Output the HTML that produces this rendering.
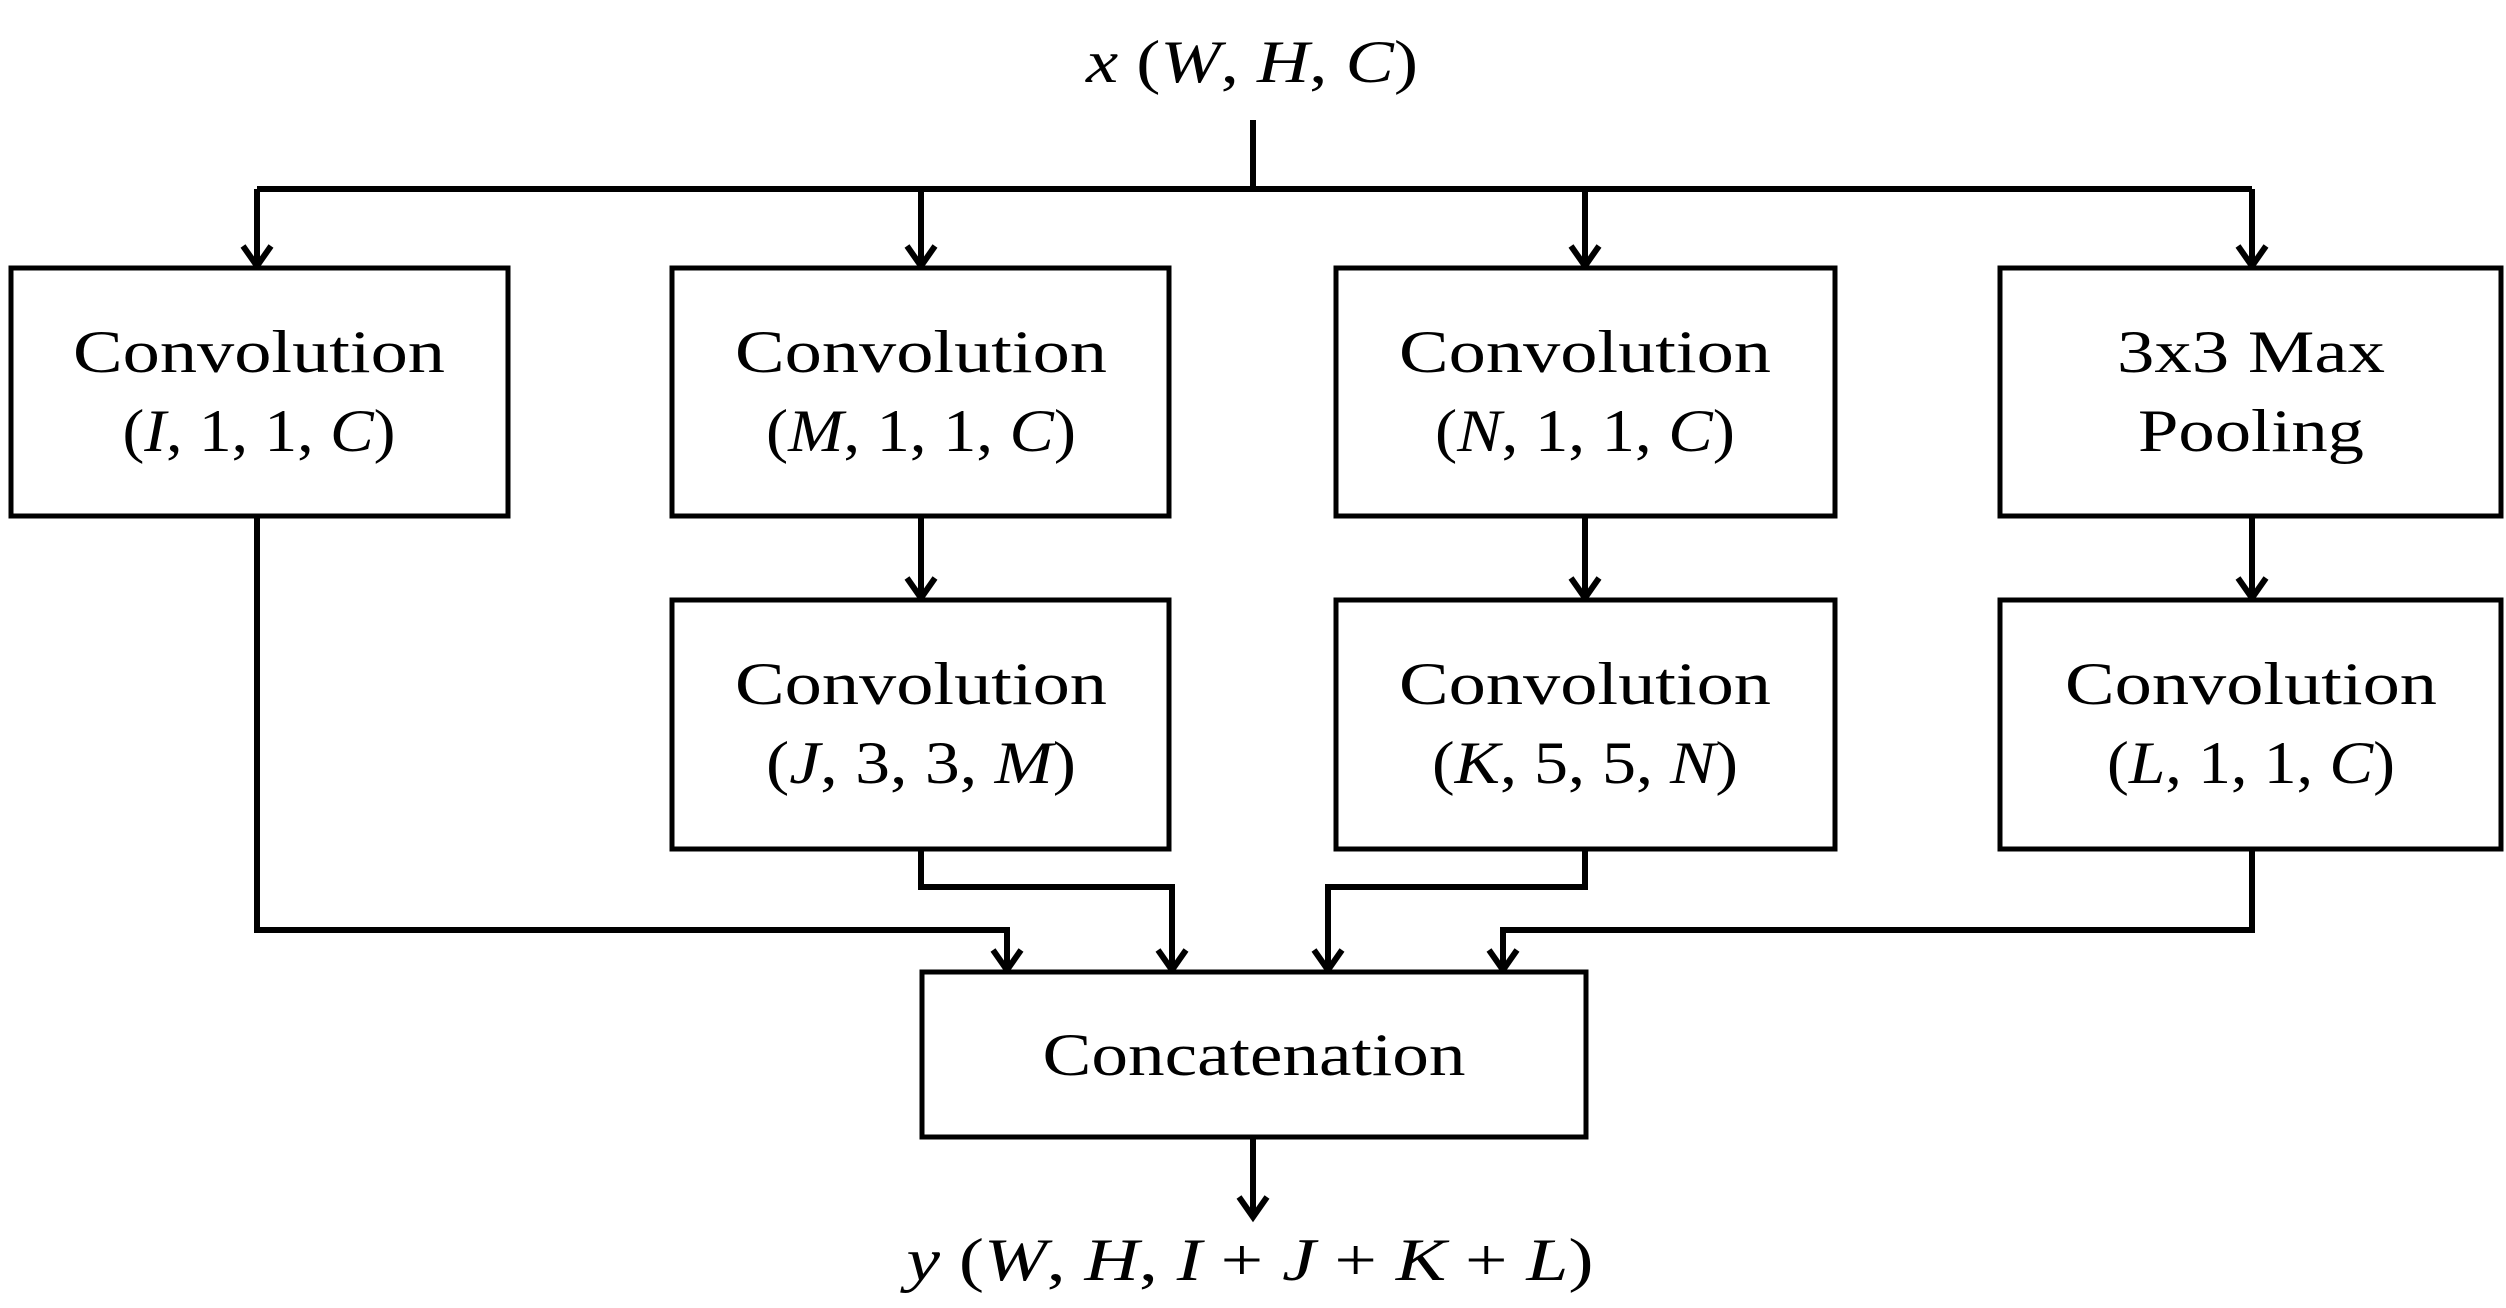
<!DOCTYPE html>
<html><head><meta charset="utf-8"><style>html,body{margin:0;padding:0;background:#fff}svg{display:block}</style></head>
<body>
<svg width="2506" height="1308" viewBox="0 0 2506 1308" xmlns="http://www.w3.org/2000/svg">
<defs>
<marker id="a" markerWidth="10" markerHeight="10" refX="5" refY="8" orient="auto" markerUnits="userSpaceOnUse" viewBox="0 0 10 10" overflow="visible">
</marker>
</defs>
<g fill="none" stroke="#000" stroke-width="6">
<!-- top -->
<path d="M1253 120 V189 M257 189 H2252 M257 189 V265 M921 189 V265 M1585 189 V265 M2252 189 V265"/>
<path d="M921 516 V597 M1585 516 V597 M2252 516 V597"/>
<path d="M257 516 V930 H1007 V969"/>
<path d="M921 849 V887 H1172 V969"/>
<path d="M1585 849 V887 H1328 V969"/>
<path d="M2252 849 V930 H1503 V969"/>
<path d="M1253 1137 V1216"/>
</g>
<g fill="none" stroke="#000" stroke-width="6" stroke-linejoin="miter">
<path d="M243 246 L257 266 L271 246"/>
<path d="M907 246 L921 266 L935 246"/>
<path d="M1571 246 L1585 266 L1599 246"/>
<path d="M2238 246 L2252 266 L2266 246"/>
<path d="M907 578 L921 598 L935 578"/>
<path d="M1571 578 L1585 598 L1599 578"/>
<path d="M2238 578 L2252 598 L2266 578"/>
<path d="M993 950 L1007 970 L1021 950"/>
<path d="M1158 950 L1172 970 L1186 950"/>
<path d="M1314 950 L1328 970 L1342 950"/>
<path d="M1489 950 L1503 970 L1517 950"/>
<path d="M1239 1197 L1253 1217 L1267 1197"/>
</g>
<g fill="#fff" stroke="#000" stroke-width="5">
<rect x="11" y="268" width="497" height="248"/>
<rect x="672" y="268" width="497" height="248"/>
<rect x="1336" y="268" width="499" height="248"/>
<rect x="2000" y="268" width="501" height="248"/>
<rect x="672" y="600" width="497" height="249"/>
<rect x="1336" y="600" width="499" height="249"/>
<rect x="2000" y="600" width="501" height="249"/>
<rect x="922" y="972" width="664" height="165"/>
</g>
<g font-family="Liberation Serif, serif" font-size="60" text-anchor="middle" fill="#000">
<text x="1252" y="82" lengthAdjust="spacingAndGlyphs" textLength="332"><tspan font-style="italic">x</tspan> (<tspan font-style="italic">W</tspan>, <tspan font-style="italic">H</tspan>, <tspan font-style="italic">C</tspan>)</text>

<text x="259" y="372" textLength="372" lengthAdjust="spacingAndGlyphs">Convolution</text>
<text x="259" y="451" textLength="273" lengthAdjust="spacingAndGlyphs">(<tspan font-style="italic">I</tspan>, 1, 1, <tspan font-style="italic">C</tspan>)</text>

<text x="921" y="372" textLength="372" lengthAdjust="spacingAndGlyphs">Convolution</text>
<text x="921" y="451" textLength="310" lengthAdjust="spacingAndGlyphs">(<tspan font-style="italic">M</tspan>, 1, 1, <tspan font-style="italic">C</tspan>)</text>

<text x="1585" y="372" textLength="372" lengthAdjust="spacingAndGlyphs">Convolution</text>
<text x="1585" y="451" textLength="300" lengthAdjust="spacingAndGlyphs">(<tspan font-style="italic">N</tspan>, 1, 1, <tspan font-style="italic">C</tspan>)</text>

<text x="2251" y="372" textLength="268" lengthAdjust="spacingAndGlyphs">3x3 Max</text>
<text x="2251" y="451" textLength="226" lengthAdjust="spacingAndGlyphs">Pooling</text>

<text x="921" y="704" textLength="372" lengthAdjust="spacingAndGlyphs">Convolution</text>
<text x="921" y="783" textLength="310" lengthAdjust="spacingAndGlyphs">(<tspan font-style="italic">J</tspan>, 3, 3, <tspan font-style="italic">M</tspan>)</text>

<text x="1585" y="704" textLength="372" lengthAdjust="spacingAndGlyphs">Convolution</text>
<text x="1585" y="783" textLength="306" lengthAdjust="spacingAndGlyphs">(<tspan font-style="italic">K</tspan>, 5, 5, <tspan font-style="italic">N</tspan>)</text>

<text x="2251" y="704" textLength="372" lengthAdjust="spacingAndGlyphs">Convolution</text>
<text x="2251" y="783" textLength="288" lengthAdjust="spacingAndGlyphs">(<tspan font-style="italic">L</tspan>, 1, 1, <tspan font-style="italic">C</tspan>)</text>

<text x="1254" y="1075" textLength="423" lengthAdjust="spacingAndGlyphs">Concatenation</text>

<text x="1250" y="1280" textLength="687" lengthAdjust="spacingAndGlyphs"><tspan font-style="italic">y</tspan> (<tspan font-style="italic">W</tspan>, <tspan font-style="italic">H</tspan>, <tspan font-style="italic">I</tspan> + <tspan font-style="italic">J</tspan> + <tspan font-style="italic">K</tspan> + <tspan font-style="italic">L</tspan>)</text>
</g>
</svg>
</body></html>
